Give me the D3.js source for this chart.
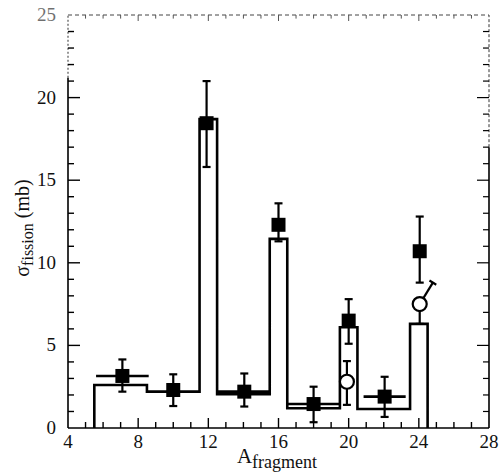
<!DOCTYPE html>
<html><head><meta charset="utf-8">
<script src="https://cdn.jsdelivr.net/npm/d3@7"></script>
<style>body{margin:0;background:#fff}svg{display:block}text{font-family:"Liberation Serif","Times New Roman",serif;fill:#111}</style>
</head><body><svg id="c" width="503" height="474"></svg>
<script>
// Histogram (calculation)
const binEdges = [5.5, 8.5, 11.5, 12.5, 15.5, 16.5, 19.5, 20.5, 23.5, 24.5];
const binValues = [2.6, 2.2, 18.7, 2.05, 11.45, 1.2, 6.1, 1.15, 6.3];
// Filled squares (data)
const sqA = [7.1, 10.0, 11.9, 14.05, 16.0, 18.0, 20.0, 22.05, 24.05];
const sqSigma = [3.15, 2.3, 18.45, 2.2, 12.3, 1.45, 6.5, 1.9, 10.7];
const sqHi = [4.15, 3.25, 21.0, 3.3, 13.6, 2.5, 7.8, 3.1, 12.8];
const sqLo = [2.2, 1.33, 15.8, 1.3, 11.3, 0.35, 5.1, 0.67, 8.8];
const sqXErr = [1.5, 0, 0, 1.5, 0, 1.5, 0, 1.2, 0];
// Open circles
const ocA = [19.9, 24.05];
const ocSigma = [2.8, 7.5];
const ocLo = [1.4, 6.3];
const ocHi = [4.05, 8.8];
const ocHiA = [19.9, 24.8];
// Ticks
const xTicks = [4, 8, 12, 16, 20, 24, 28];
const yTicks = [0, 5, 10, 15, 20, 25];

const svg = d3.select("#c");
const L = 68, R = 489, T = 15, B = 428;
const x = d3.scaleLinear().domain([4, 28]).range([L, R]);
const y = d3.scaleLinear().domain([0, 25]).range([B, T]);

// frame
const g = svg.append("g");
g.append("line").attr("x1", L).attr("x2", R).attr("y1", B).attr("y2", B).attr("stroke", "#000").attr("stroke-width", 1.6);
g.append("line").attr("x1", L).attr("x2", L).attr("y1", B).attr("y2", y(21.2)).attr("stroke", "#000").attr("stroke-width", 1.6);
g.append("line").attr("x1", L).attr("x2", L).attr("y1", y(21.2)).attr("y2", T).attr("stroke", "#333").attr("stroke-width", 1).attr("stroke-dasharray", "2,2");
g.append("line").attr("x1", R).attr("x2", R).attr("y1", B).attr("y2", y(17)).attr("stroke", "#000").attr("stroke-width", 1.6);
g.append("line").attr("x1", R).attr("x2", R).attr("y1", y(17)).attr("y2", T).attr("stroke", "#333").attr("stroke-width", 1).attr("stroke-dasharray", "3,2");
g.append("line").attr("x1", L).attr("x2", R).attr("y1", T).attr("y2", T).attr("stroke", "#444").attr("stroke-width", 1).attr("stroke-dasharray", "4,3");

// ticks
const xMinor = d3.range(4, 29, 1);
const yMinor = d3.range(0, 26, 1);
xMinor.forEach(v => {
  const major = v % 4 === 0;
  const len = major ? 10 : 6;
  if (v > 4 && v < 28) {
    g.append("line").attr("x1", x(v)).attr("x2", x(v)).attr("y1", B).attr("y2", B - len).attr("stroke", "#000").attr("stroke-width", 1.4);
    g.append("line").attr("x1", x(v)).attr("x2", x(v)).attr("y1", T).attr("y2", T + len * 0.6).attr("stroke", "#555").attr("stroke-width", 1);
  }
});
yMinor.forEach(v => {
  const major = v % 5 === 0;
  const len = major ? 12 : 6;
  if (v > 0 && v < 25) {
    g.append("line").attr("x1", L).attr("x2", L + len).attr("y1", y(v)).attr("y2", y(v)).attr("stroke", "#000").attr("stroke-width", 1.4);
    g.append("line").attr("x1", R).attr("x2", R - len).attr("y1", y(v)).attr("y2", y(v)).attr("stroke", "#000").attr("stroke-width", 1.2);
  }
});
// tick labels
xTicks.forEach(v => {
  svg.append("text").attr("x", x(v)).attr("y", 448).attr("text-anchor", "middle").attr("font-size", 19).text(v);
});
yTicks.forEach(v => {
  svg.append("text").attr("x", 56).attr("y", y(v) + 6).attr("text-anchor", "end").attr("font-size", 19).attr("opacity", v === 25 ? 0.6 : 1).text(v);
});

// histogram step line
const pts = [[binEdges[0], 0]];
binValues.forEach((v, i) => { pts.push([binEdges[i], v]); pts.push([binEdges[i + 1], v]); });
pts.push([binEdges[binEdges.length - 1], 0]);
svg.append("path").attr("d", d3.line().x(d => x(d[0])).y(d => y(d[1]))(pts))
  .attr("fill", "none").attr("stroke", "#000").attr("stroke-width", 2.6);

// error bars squares
const cap = 4;
sqA.forEach((a, i) => {
  const e = svg.append("g").attr("stroke", "#000").attr("stroke-width", 2.2);
  e.append("line").attr("x1", x(a)).attr("x2", x(a)).attr("y1", y(sqLo[i])).attr("y2", y(sqHi[i]));
  e.append("line").attr("x1", x(a) - cap).attr("x2", x(a) + cap).attr("y1", y(sqLo[i])).attr("y2", y(sqLo[i]));
  e.append("line").attr("x1", x(a) - cap).attr("x2", x(a) + cap).attr("y1", y(sqHi[i])).attr("y2", y(sqHi[i]));
  if (sqXErr[i] > 0) {
    e.append("line").attr("x1", x(a - sqXErr[i])).attr("x2", x(a + sqXErr[i])).attr("y1", y(sqSigma[i])).attr("y2", y(sqSigma[i])).attr("stroke-width", 2.6);
  }
  svg.append("rect").attr("x", x(a) - 7).attr("y", y(sqSigma[i]) - 7).attr("width", 14).attr("height", 14).attr("fill", "#000");
});

// open circles
ocA.forEach((a, i) => {
  const e = svg.append("g").attr("stroke", "#000").attr("stroke-width", 2.2);
  e.append("line").attr("x1", x(a)).attr("x2", x(a)).attr("y1", y(ocLo[i])).attr("y2", y(ocSigma[i]));
  e.append("line").attr("x1", x(a) - cap).attr("x2", x(a) + cap).attr("y1", y(ocLo[i])).attr("y2", y(ocLo[i]));
  const x2 = x(ocHiA[i]), y2 = y(ocHi[i]);
  e.append("line").attr("x1", x(a)).attr("x2", x2).attr("y1", y(ocSigma[i])).attr("y2", y2);
  const dx = x2 - x(a), dy = y2 - y(ocSigma[i]);
  const n = Math.hypot(dx, dy);
  const px = -dy / n * cap, py = dx / n * cap;
  e.append("line").attr("x1", x2 - px).attr("x2", x2 + px).attr("y1", y2 - py).attr("y2", y2 + py);
  svg.append("circle").attr("cx", x(a)).attr("cy", y(ocSigma[i])).attr("r", 7).attr("fill", "#fff").attr("stroke", "#000").attr("stroke-width", 2.2);
});

// axis titles
const xt = svg.append("text").attr("x", 277).attr("y", 463).attr("text-anchor", "middle").attr("font-size", 21);
xt.append("tspan").text("A");
xt.append("tspan").attr("font-size", 18).attr("dy", 5).text("fragment");
const yt = svg.append("text").attr("transform", "translate(29,228) rotate(-90)").attr("text-anchor", "middle").attr("font-size", 20);
yt.append("tspan").text("σ");
yt.append("tspan").attr("font-size", 16).attr("dy", 4).text("fission");
yt.append("tspan").attr("dy", -4).text(" (mb)");
</script></body></html>
